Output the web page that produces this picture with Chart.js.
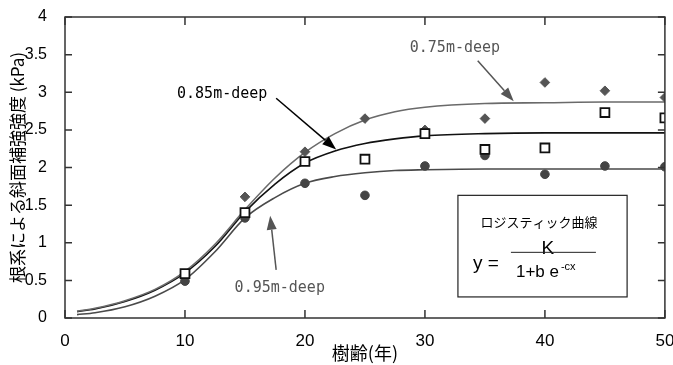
<!DOCTYPE html>
<html lang="ja">
<head>
<meta charset="UTF-8">
<title>根系による斜面補強強度</title>
<script src="https://cdn.jsdelivr.net/npm/chart.js"></script>
<style>
  html, body { margin: 0; padding: 0; background: #fff; }
  #wrap { width: 673px; height: 365px; position: relative; }
</style>
</head>
<body>
<div id="wrap"><canvas id="chart"></canvas></div>
<script>
// measured points (age in years)
const ages = [10, 15, 20, 25, 30, 35, 40, 45, 50];
const deep075 = [0.58, 1.61, 2.21, 2.65, 2.50, 2.65, 3.13, 3.02, 2.93];
const deep085 = [0.59, 1.40, 2.08, 2.11, 2.45, 2.24, 2.26, 2.73, 2.66];
const deep095 = [0.49, 1.33, 1.79, 1.63, 2.02, 2.16, 1.91, 2.02, 2.01];

// logistic curves
const curveAges = [1, 2.5, 5, 7.5, 10, 12.5, 15, 17.5, 20, 22.5, 25, 27.5, 30, 35, 40, 45, 50];
const curve075 = [0.09, 0.13, 0.23, 0.38, 0.62, 0.98, 1.44, 1.86, 2.20, 2.45, 2.63, 2.74, 2.80, 2.85, 2.86, 2.87, 2.87];
const curve085 = [0.085, 0.12, 0.22, 0.37, 0.60, 0.95, 1.41, 1.78, 2.06, 2.22, 2.32, 2.38, 2.42, 2.45, 2.46, 2.46, 2.46];
const curve095 = [0.045, 0.07, 0.15, 0.29, 0.51, 0.88, 1.33, 1.60, 1.79, 1.88, 1.93, 1.96, 1.97, 1.98, 1.98, 1.98, 1.98];

const xTicks = [0, 10, 20, 30, 40, 50];
const yTicks = [0, 0.5, 1, 1.5, 2, 2.5, 3, 3.5, 4];

const numFont = '"Liberation Sans", Arial, sans-serif';
const jpFont = '"Noto Sans CJK JP", sans-serif';

function pts(xs, ys) {
  return xs.map((x, i) => ({ x: x, y: ys[i] }));
}

// callouts: label position and arrow in data units
const callouts = [
  { text: '0.75m-deep', tx: 32.5, ty: 3.59, from: [34.4, 3.42], to: [37.4, 2.88], color: '#555' },
  { text: '0.85m-deep', tx: 13.1, ty: 2.98, from: [17.6, 2.92], to: [22.6, 2.24], color: '#000' },
  { text: '0.95m-deep', tx: 17.9, ty: 0.40, from: [17.6, 0.64], to: [17.1, 1.36], color: '#555' }
];

function arrow(ctx, x1, y1, x2, y2, color) {
  const ang = Math.atan2(y2 - y1, x2 - x1);
  const len = 14, half = 5;
  const bx = x2 - Math.cos(ang) * len, by = y2 - Math.sin(ang) * len;
  ctx.strokeStyle = color;
  ctx.fillStyle = color;
  ctx.lineWidth = 1.5;
  ctx.beginPath();
  ctx.moveTo(x1, y1);
  ctx.lineTo(bx, by);
  ctx.stroke();
  ctx.beginPath();
  ctx.moveTo(x2, y2);
  ctx.lineTo(bx - Math.sin(ang) * half, by + Math.cos(ang) * half);
  ctx.lineTo(bx + Math.sin(ang) * half, by - Math.cos(ang) * half);
  ctx.closePath();
  ctx.fill();
}

const extras = {
  id: 'extras',
  afterDatasetsDraw(chart) {
    const ctx = chart.ctx;
    const a = chart.chartArea;
    const xs = chart.scales.x, ys = chart.scales.y;
    ctx.save();
    // frame
    ctx.strokeStyle = '#333';
    ctx.lineWidth = 1.5;
    ctx.strokeRect(a.left, a.top, a.right - a.left, a.bottom - a.top);
    // inward ticks on all four sides
    ctx.beginPath();
    xTicks.forEach(v => {
      const px = xs.getPixelForValue(v);
      ctx.moveTo(px, a.bottom); ctx.lineTo(px, a.bottom - 8);
      ctx.moveTo(px, a.top); ctx.lineTo(px, a.top + 8);
    });
    yTicks.forEach(v => {
      const py = ys.getPixelForValue(v);
      ctx.moveTo(a.left, py); ctx.lineTo(a.left + 7, py);
      ctx.moveTo(a.right, py); ctx.lineTo(a.right - 7, py);
    });
    ctx.stroke();

    // callout labels and arrows
    ctx.font = '15px "DejaVu Sans Mono", monospace';
    ctx.textAlign = 'center';
    ctx.textBaseline = 'middle';
    callouts.forEach(c => {
      ctx.fillStyle = c.color;
      ctx.fillText(c.text, xs.getPixelForValue(c.tx), ys.getPixelForValue(c.ty));
      arrow(ctx, xs.getPixelForValue(c.from[0]), ys.getPixelForValue(c.from[1]),
        xs.getPixelForValue(c.to[0]), ys.getPixelForValue(c.to[1]), c.color);
    });

    // formula box
    const bx1 = xs.getPixelForValue(32.75), bx2 = xs.getPixelForValue(46.85);
    const by1 = ys.getPixelForValue(1.63), by2 = ys.getPixelForValue(0.28);
    ctx.fillStyle = '#fff';
    ctx.fillRect(bx1, by1, bx2 - bx1, by2 - by1);
    ctx.strokeStyle = '#222';
    ctx.lineWidth = 1.2;
    ctx.strokeRect(bx1, by1, bx2 - bx1, by2 - by1);
    ctx.fillStyle = '#000';
    ctx.font = '13px ' + jpFont;
    ctx.fillText('ロジスティック曲線', bx1 + 81, by1 + 27);
    ctx.font = '19px "Liberation Sans", Arial, sans-serif';
    ctx.textAlign = 'left';
    ctx.fillText('y =', bx1 + 15, by1 + 68);
    ctx.textAlign = 'center';
    ctx.fillText('K', bx1 + 90, by1 + 53);
    ctx.beginPath();
    ctx.lineWidth = 1;
    ctx.moveTo(bx1 + 53, by1 + 57);
    ctx.lineTo(bx1 + 138, by1 + 57);
    ctx.stroke();
    ctx.font = '17px "Liberation Sans", Arial, sans-serif';
    ctx.textAlign = 'left';
    ctx.fillText('1+b e', bx1 + 58, by1 + 77);
    ctx.font = '11px "Liberation Sans", Arial, sans-serif';
    ctx.fillText('-cx', bx1 + 103, by1 + 72);
    ctx.restore();
  }
};

new Chart(document.getElementById('chart'), {
  type: 'scatter',
  data: {
    datasets: [
      { label: '0.85m-deep', data: pts(ages, deep085), pointStyle: 'rect', pointRadius: 6.3,
        backgroundColor: '#fff', borderColor: '#111', borderWidth: 1.8, order: 0 },
      { label: '0.75m-deep', data: pts(ages, deep075), pointStyle: 'rectRot', pointRadius: 4.8,
        backgroundColor: '#555', borderColor: '#555', borderWidth: 1, order: 1 },
      { label: '0.95m-deep', data: pts(ages, deep095), pointStyle: 'circle', pointRadius: 4.3,
        backgroundColor: '#444', borderColor: '#444', borderWidth: 1, order: 2 },
      { label: 'fit 0.75', data: pts(curveAges, curve075), showLine: true, pointRadius: 0,
        borderColor: '#6a6a6a', borderWidth: 1.6, cubicInterpolationMode: 'monotone', order: 3 },
      { label: 'fit 0.85', data: pts(curveAges, curve085), showLine: true, pointRadius: 0,
        borderColor: '#111', borderWidth: 1.6, cubicInterpolationMode: 'monotone', order: 3 },
      { label: 'fit 0.95', data: pts(curveAges, curve095), showLine: true, pointRadius: 0,
        borderColor: '#4a4a4a', borderWidth: 1.6, cubicInterpolationMode: 'monotone', order: 3 }
    ]
  },
  options: {
    responsive: true,
    maintainAspectRatio: false,
    animation: false,
    layout: { padding: { left: 0, right: 5, top: 17, bottom: 0 } },
    plugins: { legend: { display: false }, tooltip: { enabled: false } },
    scales: {
      x: {
        type: 'linear', min: 0, max: 50,
        afterBuildTicks: s => { s.ticks = xTicks.map(v => ({ value: v })); },
        afterFit: s => { s.height = 47; s.paddingLeft = 0; s.paddingRight = 0; },
        grid: { display: false },
        border: { display: false },
        ticks: { color: '#000', padding: 5, maxRotation: 0, callback: v => String(v),
          font: { family: numFont, size: 17 } },
        title: { display: true, text: '樹齢(年)', color: '#000', padding: { top: 0, bottom: 1 },
          font: { family: jpFont, size: 18 } }
      },
      y: {
        type: 'linear', min: 0, max: 4,
        afterBuildTicks: s => { s.ticks = yTicks.map(v => ({ value: v })); },
        afterFit: s => { s.width = 65; s.paddingTop = 0; s.paddingBottom = 0; },
        grid: { display: false },
        border: { display: false },
        ticks: { color: '#000', padding: 10, callback: v => String(v),
          font: { family: numFont, size: 16 } },
        title: { display: true, text: '根系による斜面補強強度 (kPa)', color: '#000', padding: { top: 7, bottom: 0 },
          font: { family: jpFont, size: 17 } }
      }
    }
  },
  plugins: [extras]
});
</script>
</body>
</html>
